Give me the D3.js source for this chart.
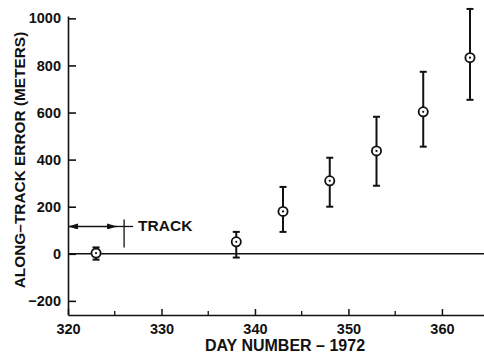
<!DOCTYPE html>
<html><head><meta charset="utf-8">
<script src="https://cdn.jsdelivr.net/npm/d3@7"></script>
<style>
body{margin:0;background:#fff;}
text{font-family:"Liberation Sans",Arial,Helvetica,sans-serif;font-weight:bold;fill:#111;}
</style></head>
<body><svg id="c" width="484" height="361"></svg>
<script>
const days   = [323, 338, 343, 348, 353, 358, 363];
const values = [3, 51, 180, 310, 437, 603, 833];
const upper  = [27, 93, 284, 408, 582, 773, 1040];
const lower  = [-25, -16, 93, 200, 289, 455, 654];
const yTicks = [-200, 0, 200, 400, 600, 800, 1000];
const xTicks = [320, 330, 340, 350, 360];
const xMinorTicks = [325, 335, 345, 355];
const trackStart = 320, trackEnd = 326, trackLevel = 116;

const svg = d3.select("#c");
const x = d3.scaleLinear().domain([320, 364.5]).range([68, 484]);
const y = d3.scaleLinear().domain([-260, 1010]).range([315, 16]);
const ink = "#111";

// y axis
const gy = svg.append("g").attr("transform", `translate(${x(320)},0)`)
  .call(d3.axisLeft(y).tickValues(yTicks).tickSizeInner(-8).tickSizeOuter(0).tickPadding(7)
    .tickFormat(d => d < 0 ? "\u2212" + Math.abs(d) : d));
gy.selectAll("text").style("font-size", "14.5px");
gy.selectAll("path,line").attr("stroke", ink).attr("stroke-width", 1.6);

// x axis
const gx = svg.append("g").attr("transform", `translate(0,${y(-260)})`)
  .call(d3.axisBottom(x).tickValues(xTicks).tickSizeInner(-6).tickSizeOuter(0).tickPadding(9).tickFormat(d3.format("d")));
gx.selectAll("text").style("font-size", "14.5px");
gx.selectAll("path,line").attr("stroke", ink).attr("stroke-width", 1.5);
svg.append("g").attr("transform", `translate(0,${y(-260)})`)
  .selectAll("line").data(xMinorTicks).join("line")
  .attr("x1", d => x(d)).attr("x2", d => x(d)).attr("y1", 0).attr("y2", -4)
  .attr("stroke", ink).attr("stroke-width", 1.3);

// zero line
svg.append("line").attr("x1", x(320)).attr("x2", 484).attr("y1", y(0)).attr("y2", y(0))
  .attr("stroke", ink).attr("stroke-width", 1.5);

// axis labels
svg.append("text").attr("x", 285).attr("y", 351).attr("text-anchor", "middle")
  .style("font-size", "16px").text("DAY NUMBER \u2013 1972");
svg.append("text").attr("transform", "translate(25,160) rotate(-90)").attr("text-anchor", "middle")
  .style("font-size", "15.4px").text("ALONG\u2013TRACK ERROR (METERS)");

// TRACK annotation
const ty = y(trackLevel);
svg.append("defs").html(`<marker id="ah" viewBox="0 0 10 6" refX="10" refY="3" markerWidth="10" markerHeight="6" orient="auto-start-reverse" markerUnits="userSpaceOnUse"><path d="M0,0L10,3L0,6Z" fill="${ink}"/></marker>`);
svg.append("line").attr("x1", x(trackStart)).attr("x2", x(trackEnd) - 7).attr("y1", ty).attr("y2", ty)
  .attr("stroke", ink).attr("stroke-width", 1.3)
  .attr("marker-start", "url(#ah)").attr("marker-end", "url(#ah)");
svg.append("line").attr("x1", x(trackEnd) - 8).attr("x2", x(trackEnd) + 9).attr("y1", ty).attr("y2", ty)
  .attr("stroke", ink).attr("stroke-width", 1.3);
svg.append("line").attr("x1", x(trackEnd)).attr("x2", x(trackEnd)).attr("y1", ty - 7).attr("y2", ty + 21)
  .attr("stroke", ink).attr("stroke-width", 1.3);
svg.append("text").attr("x", x(trackEnd) + 14).attr("y", ty + 5).style("font-size", "15.5px").text("TRACK");

// error bars
const pts = days.map((d, i) => ({d, v: values[i], hi: upper[i], lo: lower[i]}));
const g = svg.append("g");
g.selectAll(".eb").data(pts).join("line")
  .attr("x1", p => x(p.d)).attr("x2", p => x(p.d)).attr("y1", p => y(p.hi)).attr("y2", p => y(p.lo))
  .attr("stroke", ink).attr("stroke-width", 2);
["hi", "lo"].forEach(k => {
  g.selectAll(".cap" + k).data(pts).join("line")
    .attr("x1", p => x(p.d) - 3.5).attr("x2", p => x(p.d) + 3.5)
    .attr("y1", p => y(p[k])).attr("y2", p => y(p[k]))
    .attr("stroke", ink).attr("stroke-width", 2);
});
g.selectAll(".pt").data(pts).join("circle")
  .attr("cx", p => x(p.d)).attr("cy", p => y(p.v)).attr("r", 4.6)
  .attr("fill", "#fff").attr("stroke", ink).attr("stroke-width", 1.8);
g.selectAll(".dot").data(pts).join("circle")
  .attr("cx", p => x(p.d)).attr("cy", p => y(p.v)).attr("r", 1.1)
  .attr("fill", ink);
</script></body></html>
